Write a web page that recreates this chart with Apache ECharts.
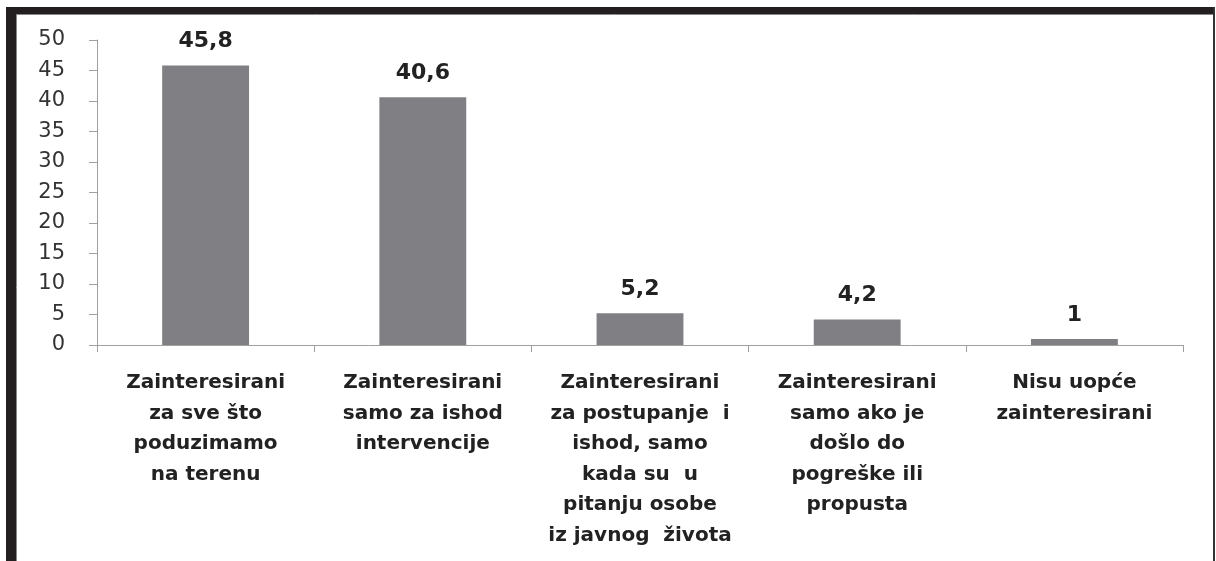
<!DOCTYPE html>
<html>
<head>
<meta charset="utf-8">
<script src="https://cdn.jsdelivr.net/npm/echarts@6/dist/echarts.min.js"></script>
<style>
html, body { margin: 0; padding: 0; background: #fff; }
#chart { width: 1216px; height: 561px; }
</style>
</head>
<body>
<div id="chart"></div>
<script>
var categories = [
	'Zainteresirani\nza sve što\npoduzimamo\nna terenu',
	'Zainteresirani\nsamo za ishod\nintervencije',
	'Zainteresirani\nza postupanje  i\nishod, samo\nkada su  u\npitanju osobe\niz javnog  života',
	'Zainteresirani\nsamo ako je\ndošlo do\npogreške ili\npropusta',
	'Nisu uopće\nzainteresirani'
];
var values = [45.8, 40.6, 5.2, 4.2, 1];
var yTicks = [0, 5, 10, 15, 20, 25, 30, 35, 40, 45, 50];

var chart = echarts.init(document.getElementById('chart'));
var option = {
	animation: false,
	backgroundColor: '#fff',
	grid: { left: 97, right: 33, top: 40, bottom: 216 },
	xAxis: {
		type: 'category',
		data: categories,
		axisLine: { lineStyle: { color: '#a0a0a0', width: 1 } },
		axisTick: { show: true, length: 7, lineStyle: { color: '#a0a0a0' } },
		axisLabel: {
			interval: 0,
			margin: 23,
			color: '#222',
			fontFamily: 'DejaVu Sans',
			fontWeight: 'bold',
			fontSize: 20,
			lineHeight: 30.5,
			align: 'center'
		}
	},
	yAxis: {
		type: 'value',
		min: yTicks[0],
		max: yTicks[yTicks.length - 1],
		interval: 5,
		splitLine: { show: false },
		axisLine: { show: true, lineStyle: { color: '#a0a0a0', width: 1 } },
		axisTick: { show: true, length: 8, lineStyle: { color: '#a0a0a0' } },
		axisLabel: {
			margin: 32,
			color: '#333',
			fontFamily: 'DejaVu Sans',
			fontSize: 21
		}
	},
	series: [{
		type: 'bar',
		data: values,
		barWidth: '40%',
		itemStyle: { color: '#808084' },
		label: {
			show: true,
			position: 'top',
			distance: 13,
			color: '#222',
			fontFamily: 'DejaVu Sans',
			fontWeight: 'bold',
			fontSize: 22,
			formatter: function (p) {
				return String(p.value).replace('.', ',');
			}
		}
	}],
	graphic: [
		{ type: 'rect', shape: { x: 6, y: 7, width: 1209, height: 7 }, style: { fill: '#231f20' } },
		{ type: 'rect', shape: { x: 6, y: 7, width: 10, height: 554 }, style: { fill: '#231f20' } },
		{ type: 'rect', shape: { x: 1213, y: 7, width: 2, height: 554 }, style: { fill: '#333' } },
		{ type: 'line', shape: { x1: 16, y1: 14.5, x2: 1213, y2: 14.5 }, style: { stroke: '#888', lineWidth: 1 } },
		{ type: 'line', shape: { x1: 16.5, y1: 14, x2: 16.5, y2: 561 }, style: { stroke: '#888', lineWidth: 1 } }
	]
};
chart.setOption(option);
</script>
</body>
</html>
